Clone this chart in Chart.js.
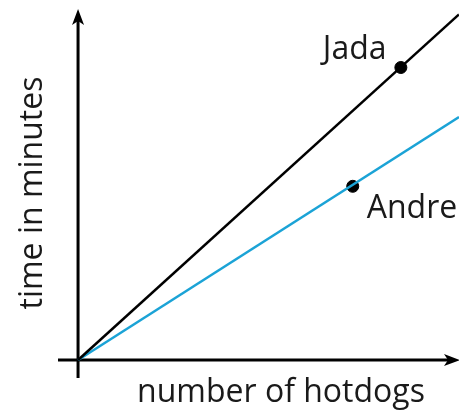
<!DOCTYPE html>
<html>
<head>
<meta charset="utf-8">
<script src="https://cdn.jsdelivr.net/npm/chart.js@4"></script>
<style>
  html, body { margin: 0; padding: 0; background: #fff; overflow: hidden; }
  canvas { display: block; }
</style>
</head>
<body>
<canvas id="chart" width="459" height="411" style="width:459px;height:411px"></canvas>
<script>
// line ends and the two marked points, in chart units
var jadaLine = [{x: 0, y: 0}, {x: 19, y: 19.2}];
var andreLine = [{x: 0, y: 0}, {x: 19, y: 13.5}];
var jadaPoint = [{x: 16.1, y: 16.25}];
var andrePoint = [{x: 13.7, y: 9.65}];
var names = ['Jada', 'Andre'];
var xTitle = 'number of hotdogs';
var yTitle = 'time in minutes';

var blue = '#1ba3d6';
var font = '"Open Sans", sans-serif';

function arrowHead(ctx, x, y, dir) {
    // dir: 'up' or 'right'
    ctx.save();
    ctx.translate(x, y);
    if (dir == 'right') ctx.rotate(Math.PI / 2);
    ctx.beginPath();
    ctx.moveTo(0, 0);
    ctx.lineTo(6, 16);
    ctx.lineTo(0, 12);
    ctx.lineTo(-6, 16);
    ctx.closePath();
    ctx.fillStyle = '#000';
    ctx.fill();
    ctx.restore();
}

var axesPlugin = {
    id: 'axes',
    beforeDatasetsDraw(chart) {
        var ctx = chart.ctx;
        var xs = chart.scales.x, ys = chart.scales.y;
        var ox = xs.getPixelForValue(0), oy = ys.getPixelForValue(0);
        var a = chart.chartArea;
        ctx.save();
        ctx.strokeStyle = '#000';
        ctx.lineWidth = 3;
        ctx.beginPath();
        ctx.moveTo(ox, a.bottom);
        ctx.lineTo(ox, a.top + 10);
        ctx.moveTo(a.left, oy);
        ctx.lineTo(a.right - 8, oy);
        ctx.stroke();
        arrowHead(ctx, ox, a.top, 'up');
        arrowHead(ctx, a.right + 1, oy, 'right');

        ctx.fillStyle = '#1a1a1a';
        ctx.font = '32px ' + font;
        ctx.textAlign = 'center';
        ctx.textBaseline = 'alphabetic';
        ctx.fillText(xTitle, 281, 402);
        ctx.save();
        ctx.translate(42, 193);
        ctx.rotate(-Math.PI / 2);
        ctx.fillText(yTitle, 0, 0);
        ctx.restore();
        ctx.restore();
    },
    afterDatasetsDraw(chart) {
        var ctx = chart.ctx;
        var xs = chart.scales.x, ys = chart.scales.y;
        ctx.save();
        ctx.fillStyle = '#1a1a1a';
        ctx.font = '32px ' + font;
        ctx.textAlign = 'left';
        var jx = xs.getPixelForValue(jadaPoint[0].x), jy = ys.getPixelForValue(jadaPoint[0].y);
        ctx.fillText(names[0], jx - 78, jy - 9);
        var ax = xs.getPixelForValue(andrePoint[0].x), ay = ys.getPixelForValue(andrePoint[0].y);
        ctx.fillText(names[1], ax + 14, ay + 32);
        ctx.restore();
    }
};

new Chart(document.getElementById('chart'), {
    type: 'scatter',
    data: {
        datasets: [{
            data: jadaLine,
            showLine: true,
            borderColor: '#000',
            borderWidth: 2.5,
            pointRadius: 0
        }, {
            data: andreLine,
            showLine: true,
            borderColor: blue,
            borderWidth: 2.5,
            pointRadius: 0
        }, {
            data: jadaPoint,
            pointRadius: 6,
            backgroundColor: '#000',
            borderColor: '#000'
        }, {
            data: andrePoint,
            pointRadius: 6,
            backgroundColor: '#000',
            borderColor: '#000'
        }]
    },
    options: {
        responsive: false,
        animation: false,
        devicePixelRatio: 1,
        layout: { autoPadding: false, padding: { left: 58, right: 0, top: 9, bottom: 33 } },
        plugins: { legend: { display: false }, tooltip: { enabled: false } },
        scales: {
            x: { type: 'linear', min: -1, max: 19, display: false },
            y: { type: 'linear', min: -1, max: 19.5, display: false }
        }
    },
    plugins: [axesPlugin]
});
</script>
</body>
</html>
